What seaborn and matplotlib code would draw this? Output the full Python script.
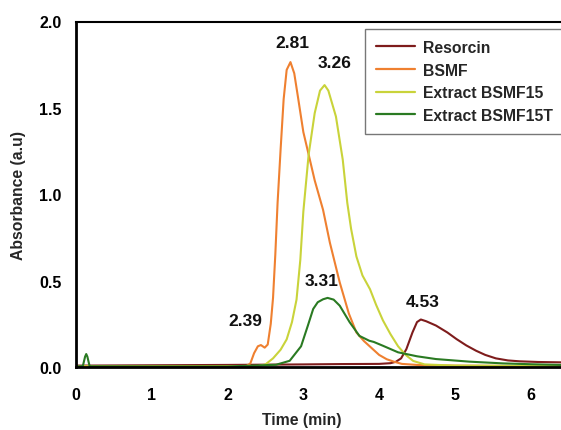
import numpy as np
import pandas as pd
import matplotlib
matplotlib.use("Agg")
import matplotlib.pyplot as plt
import seaborn as sns

# ---- data ----
series_names = ["Resorcin", "BSMF", "Extract BSMF15", "Extract BSMF15T"]

resorcin_t = [0, 1.0, 2.0, 3.0, 3.5, 4.0, 4.15, 4.22, 4.29, 4.36, 4.44, 4.50, 4.55, 4.62,
              4.75, 4.90, 5.02, 5.15, 5.28, 5.40, 5.54, 5.70, 5.85, 6.10, 6.40]
resorcin_y = [0.008, 0.010, 0.012, 0.015, 0.017, 0.018, 0.022, 0.030, 0.050, 0.104, 0.200, 0.260,
              0.275, 0.265, 0.240, 0.200, 0.162, 0.125, 0.094, 0.070, 0.050, 0.038, 0.033, 0.029, 0.027]

bsmf_t = [0, 1.0, 2.0, 2.25, 2.30, 2.35, 2.40, 2.44, 2.49, 2.53, 2.57, 2.60, 2.63, 2.66, 2.70,
          2.74, 2.78, 2.83, 2.88, 2.93, 3.00, 3.07, 3.15, 3.26, 3.35, 3.48, 3.60, 3.70, 3.80,
          3.90, 4.00, 4.10, 4.20, 4.30, 4.50, 5.00, 6.40]
bsmf_y = [0.005, 0.005, 0.005, 0.006, 0.02, 0.08, 0.12, 0.127, 0.112, 0.13, 0.25, 0.40, 0.65,
          0.95, 1.26, 1.55, 1.72, 1.765, 1.70, 1.56, 1.36, 1.23, 1.08, 0.91, 0.72, 0.49, 0.31,
          0.20, 0.15, 0.11, 0.07, 0.045, 0.030, 0.018, 0.012, 0.008, 0.005]

bsmf15_t = [0, 1.0, 2.0, 2.40, 2.50, 2.60, 2.70, 2.78, 2.85, 2.91, 2.96, 3.00, 3.07, 3.15, 3.22,
            3.28, 3.33, 3.43, 3.52, 3.58, 3.63, 3.70, 3.78, 3.88, 3.96, 4.05, 4.15, 4.25, 4.35,
            4.45, 4.60, 5.00, 6.40]
bsmf15_y = [0.004, 0.004, 0.004, 0.005, 0.015, 0.05, 0.10, 0.16, 0.26, 0.39, 0.62, 0.90, 1.23,
            1.47, 1.60, 1.632, 1.60, 1.45, 1.20, 0.95, 0.80, 0.64, 0.53, 0.45, 0.36, 0.27, 0.19,
            0.12, 0.07, 0.035, 0.015, 0.008, 0.005]

bsmf15t_t = [0, 0.09, 0.12, 0.135, 0.15, 0.18, 1.0, 2.0, 2.64, 2.82, 2.97, 3.06, 3.13, 3.19,
             3.26, 3.32, 3.40, 3.48, 3.61, 3.74, 3.87, 3.93, 4.05, 4.25, 4.50, 4.75, 5.19, 5.63,
             6.00, 6.40]
bsmf15t_y = [0.003, 0.005, 0.06, 0.075, 0.06, 0.004, 0.003, 0.003, 0.013, 0.036, 0.12, 0.24,
             0.336, 0.375, 0.392, 0.400, 0.390, 0.355, 0.26, 0.18, 0.152, 0.145, 0.123, 0.085,
             0.062, 0.046, 0.031, 0.021, 0.016, 0.012]

peak_labels = ["2.81", "3.26", "3.31", "4.53", "2.39"]
peak_label_t = [2.86, 3.41, 3.24, 4.58, 2.23]
peak_label_y = [1.88, 1.76, 0.50, 0.38, 0.27]

x_ticks = [0, 1, 2, 3, 4, 5, 6]
y_ticks = [0.0, 0.5, 1.0, 1.5, 2.0]

colors = ["#7E1C1C", "#EF8030", "#C9D33A", "#2A7A22"]

# ---- build long-form table ----
frames = []
for name, t, y in zip(series_names,
                      [resorcin_t, bsmf_t, bsmf15_t, bsmf15t_t],
                      [resorcin_y, bsmf_y, bsmf15_y, bsmf15t_y]):
    frames.append(pd.DataFrame({"Time": t, "Absorbance": y, "Sample": name}))
df = pd.concat(frames, ignore_index=True)

sns.set_style("white")
plt.rcParams["font.family"] = ["Liberation Sans", "DejaVu Sans"]
plt.rcParams["font.weight"] = "bold"

fig = plt.figure(figsize=(5.61, 4.31), dpi=100)
ax = fig.add_axes([76 / 561, 1 - 368 / 431, 1 - 76 / 561, (368 - 22.5) / 431])

sns.lineplot(data=df, x="Time", y="Absorbance", hue="Sample", hue_order=series_names,
             palette=colors, linewidth=1.5, sort=False, estimator=None, ax=ax, legend=True)

ax.set_xlim(0, 6.4)
ax.set_ylim(0, 2.0)
ax.set_xticks(x_ticks)
ax.set_xticklabels([str(v) for v in x_ticks])
ax.set_yticks(y_ticks)
ax.set_yticklabels([f"{v:.1f}" for v in y_ticks])
ax.tick_params(axis="both", direction="out", length=5.5, width=1.5, labelsize=11.5,
               colors="black")
ax.tick_params(axis="x", pad=9)
ax.tick_params(axis="y", pad=5)
for lab in ax.get_xticklabels() + ax.get_yticklabels():
    lab.set_fontweight("bold")

for side in ["left", "bottom", "top"]:
    ax.spines[side].set_visible(True)
    ax.spines[side].set_color("black")
ax.spines["left"].set_linewidth(2.0)
ax.spines["bottom"].set_linewidth(2.0)
ax.spines["top"].set_linewidth(1.5)
ax.spines["right"].set_visible(False)

ax.set_xlabel("Time (min)", fontsize=11.3, fontweight="bold")
ax.set_ylabel("Absorbance (a.u)", fontsize=11.3, fontweight="bold")
ax.xaxis.set_label_coords((301.5 - 76) / 485, -(413 - 368) / 345.5)
ax.yaxis.set_label_coords(-(76 - 26) / 485, 0.5)

for txt, tx, ty in zip(peak_labels, peak_label_t, peak_label_y):
    ax.text(tx, ty, txt, ha="center", va="center", fontsize=12.5, fontweight="bold", color="#111111")

leg = ax.legend(loc="upper left", bbox_to_anchor=(365 / 561, 1 - 30 / 431),
                bbox_transform=fig.transFigure, frameon=True, fancybox=False,
                fontsize=11.3, handlelength=2.5, handletextpad=0.5, labelspacing=0.48,
                borderpad=0.7, borderaxespad=0, title=None)
leg.get_frame().set_edgecolor("#555555")
leg.get_frame().set_linewidth(1.0)
for t in leg.get_texts():
    t.set_fontweight("bold")
for h in leg.get_lines():
    h.set_linewidth(1.6)

fig.savefig("out.png", dpi=100)
